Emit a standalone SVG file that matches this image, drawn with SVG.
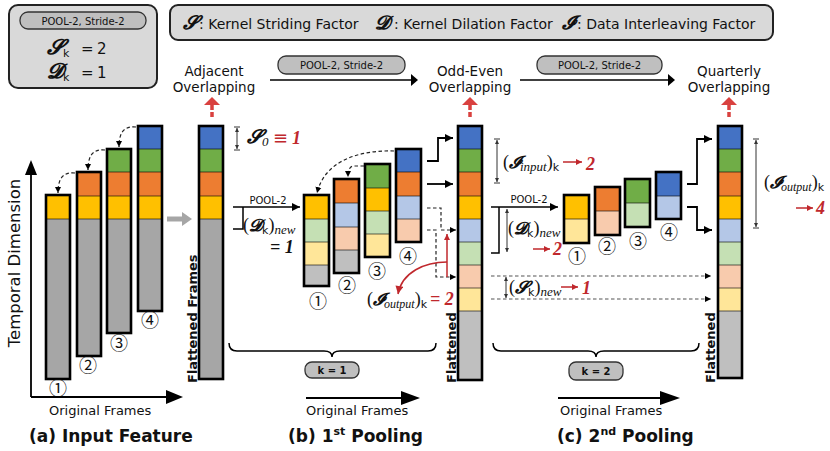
<svg xmlns="http://www.w3.org/2000/svg" width="830" height="451" viewBox="0 0 830 451">
<style>
text{font-family:"DejaVu Sans","Noto Sans",sans-serif;fill:#111}
.lbl{font-size:13.5px;text-anchor:middle}
.lg14{font-size:14px}
.ttl{font-size:17px;font-weight:bold}
.of{font-size:13px}
.flat{font-size:13px;font-weight:bold}
.pill{fill:#bfbfbf;stroke:#333;stroke-width:1.3}
.pt{font-size:10px;text-anchor:middle}
.kt{font-size:10px;font-weight:bold;text-anchor:middle}
.box{fill:#d9d9d9;stroke:#222;stroke-width:2}
.b{fill:#4472c4}.g{fill:#70ad47}.o{fill:#ed7d31}.y{fill:#ffc000}.gr{fill:#a6a6a6}
.lb{fill:#b4c7e7}.lgn{fill:#c5e0b4}.pe{fill:#f8cbad}.ly{fill:#ffe699}.lgr{fill:#bfbfbf}
.ol{fill:none;stroke:#000;stroke-width:2.6}
.sep{stroke:#000;stroke-opacity:.3;stroke-width:2;fill:none}
.cn{font-family:"Noto Sans CJK JP","DejaVu Sans",sans-serif;font-size:18px;text-anchor:middle}
.ln{fill:none;stroke:#000;stroke-width:1.8}
.tl{fill:none;stroke:#000;stroke-width:1.5}
.dl{fill:none;stroke:#222;stroke-width:1.2;stroke-dasharray:3.5 2.5}
.dl2{fill:none;stroke:#555;stroke-width:1.2;stroke-dasharray:3.5 2.5}
.dim{fill:none;stroke:#333;stroke-width:1}
.rl{fill:none;stroke:#c0282d;stroke-width:1.5}
.m{font-family:"Liberation Serif","DejaVu Serif",serif}
.sc{font-family:"DejaVu Serif","Liberation Serif",serif;font-weight:bold;font-style:italic}
.it{font-style:italic}
.rn{fill:#c0282d;font-family:"Liberation Serif",serif;font-weight:bold;font-style:italic;font-size:18px}
</style>
<defs>
<marker id="ah" viewBox="0 0 10 10" refX="10" refY="5" markerWidth="8" markerHeight="11" markerUnits="userSpaceOnUse" orient="auto"><path d="M0 0L10 5L0 10z" fill="#000"/></marker>
<marker id="ahs" viewBox="0 0 10 10" refX="10" refY="5" markerWidth="6" markerHeight="8" markerUnits="userSpaceOnUse" orient="auto"><path d="M0 0L10 5L0 10z" fill="#000"/></marker>
<marker id="rah" viewBox="0 0 10 10" refX="10" refY="5" markerWidth="7" markerHeight="6" markerUnits="userSpaceOnUse" orient="auto"><path d="M0 0L10 5L0 10z" fill="#c0282d"/></marker>
<marker id="rah2" viewBox="0 0 10 10" refX="10" refY="5" markerWidth="9" markerHeight="8" markerUnits="userSpaceOnUse" orient="auto"><path d="M0 0L10 5L0 10z" fill="#c0282d"/></marker>
<marker id="dt" viewBox="0 0 10 10" refX="10" refY="5" markerWidth="4" markerHeight="4" markerUnits="userSpaceOnUse" orient="auto-start-reverse"><path d="M0 0L10 5L0 10z" fill="#333"/></marker>
</defs>
<rect width="830" height="451" fill="#fff"/>

<g id="param-box">
<rect class="box" x="9" y="5" width="148" height="83" rx="9"/>
<rect class="pill" x="20" y="12" width="126" height="17" rx="8"/>
<text class="pt" x="83" y="24.5">POOL-2, Stride-2</text>
<text x="47" y="54"><tspan class="sc" font-size="21">𝓢</tspan><tspan font-size="11" dy="3">k</tspan></text>
<text x="81" y="54" font-size="15">=</text><text x="97" y="54" font-size="15">2</text>
<text x="47" y="78"><tspan class="sc" font-size="21">𝓓</tspan><tspan font-size="11" dy="3">k</tspan></text>
<text x="81" y="78" font-size="15">=</text><text x="97" y="78" font-size="15">1</text>
</g>

<g id="legend">
<rect class="box" x="170" y="5" width="603" height="35" rx="8"/>
<text class="lg14" x="183" y="29"><tspan class="sc" font-size="19">𝓢</tspan><tspan x="199">: Kernel Striding Factor</tspan></text>
<text class="lg14" x="375" y="29"><tspan class="sc" font-size="19">𝓓</tspan><tspan x="394">: Kernel Dilation Factor</tspan></text>
<text class="lg14" x="562" y="29"><tspan class="sc" font-size="19">𝓘</tspan><tspan x="577">: Data Interleaving Factor</tspan></text>
</g>

<g id="label-adjacent"><text class="lbl" x="214" y="76">Adjacent</text><text class="lbl" x="214" y="92">Overlapping</text></g>
<g id="label-oddeven"><text class="lbl" x="470" y="76">Odd-Even</text><text class="lbl" x="470" y="92">Overlapping</text></g>
<g id="label-quarterly"><text class="lbl" x="729" y="76">Quarterly</text><text class="lbl" x="729" y="92">Overlapping</text></g>
<g id="pill-top1"><rect class="pill" x="278" y="56" width="127" height="18" rx="8"/><text class="pt" x="341.5" y="69">POOL-2, Stride-2</text></g>
<g id="pill-top2"><rect class="pill" x="537" y="56" width="125" height="18" rx="8"/><text class="pt" x="599.5" y="69">POOL-2, Stride-2</text></g>

<g id="a-frame1">
<rect class="y" x="46" y="195" width="24" height="24"/><rect class="gr" x="46" y="219" width="24" height="160"/>
<path class="sep" d="M46 219h24"/><rect class="ol" x="46" y="195" width="24" height="184"/>
</g>
<g id="a-frame2">
<rect class="o" x="77" y="172" width="24" height="24"/><rect class="y" x="77" y="196" width="24" height="23"/><rect class="gr" x="77" y="219" width="24" height="137"/>
<path class="sep" d="M77 196h24M77 219h24"/><rect class="ol" x="77" y="172" width="24" height="184"/>
</g>
<g id="a-frame3">
<rect class="g" x="107" y="149" width="24" height="23"/><rect class="o" x="107" y="172" width="24" height="24"/><rect class="y" x="107" y="196" width="24" height="23"/><rect class="gr" x="107" y="219" width="24" height="114"/>
<path class="sep" d="M107 172h24M107 196h24M107 219h24"/><rect class="ol" x="107" y="149" width="24" height="184"/>
</g>
<g id="a-frame4">
<rect class="b" x="138" y="126" width="24" height="23"/><rect class="g" x="138" y="149" width="24" height="23"/><rect class="o" x="138" y="172" width="24" height="24"/><rect class="y" x="138" y="196" width="24" height="23"/><rect class="gr" x="138" y="219" width="24" height="92"/>
<path class="sep" d="M138 149h24M138 172h24M138 196h24M138 219h24"/><rect class="ol" x="138" y="126" width="24" height="185"/>
</g>
<g id="a-flattened">
<rect class="b" x="199" y="126" width="24" height="23"/><rect class="g" x="199" y="149" width="24" height="23"/><rect class="o" x="199" y="172" width="24" height="24"/><rect class="y" x="199" y="196" width="24" height="23"/><rect class="gr" x="199" y="219" width="24" height="160"/>
<path class="sep" d="M199 149h24M199 172h24M199 196h24M199 219h24"/><rect class="ol" x="199" y="126" width="24" height="253"/>
</g>
<text class="cn" x="58" y="395">①</text><text class="cn" x="88" y="372">②</text><text class="cn" x="119" y="350">③</text><text class="cn" x="150" y="327">④</text>
<text class="flat" transform="translate(197,383) rotate(-90)">Flattened Frames</text>
<text transform="translate(20,263) rotate(-90)" font-size="16.5" text-anchor="middle">Temporal Dimension</text>

<g id="b-frame1">
<rect class="y" x="304" y="195" width="25" height="24"/><rect class="lgn" x="304" y="219" width="25" height="23"/><rect class="ly" x="304" y="242" width="25" height="23"/><rect class="lgr" x="304" y="265" width="25" height="21"/>
<path class="sep" d="M304 219h25M304 242h25M304 265h25"/><rect class="ol" x="304" y="195" width="25" height="91"/>
</g>
<g id="b-frame2">
<rect class="o" x="334" y="179" width="25" height="24"/><rect class="lb" x="334" y="203" width="25" height="24"/><rect class="pe" x="334" y="227" width="25" height="23"/><rect class="lgr" x="334" y="250" width="25" height="23"/>
<path class="sep" d="M334 203h25M334 227h25M334 250h25"/><rect class="ol" x="334" y="179" width="25" height="94"/>
</g>
<g id="b-frame3">
<rect class="g" x="365" y="164" width="25" height="24"/><rect class="y" x="365" y="188" width="25" height="23"/><rect class="lgn" x="365" y="211" width="25" height="23"/><rect class="ly" x="365" y="234" width="25" height="23"/>
<path class="sep" d="M365 188h25M365 211h25M365 234h25"/><rect class="ol" x="365" y="164" width="25" height="93"/>
</g>
<g id="b-frame4">
<rect class="b" x="396" y="149" width="25" height="23"/><rect class="o" x="396" y="172" width="25" height="24"/><rect class="lb" x="396" y="196" width="25" height="23"/><rect class="pe" x="396" y="219" width="25" height="23"/>
<path class="sep" d="M396 172h25M396 196h25M396 219h25"/><rect class="ol" x="396" y="149" width="25" height="93"/>
</g>
<text class="cn" x="318" y="308">①</text><text class="cn" x="347" y="292">②</text><text class="cn" x="377" y="278">③</text><text class="cn" x="408" y="263">④</text>

<g id="b-flattened">
<rect class="b" x="458" y="126" width="24" height="23"/><rect class="g" x="458" y="149" width="24" height="23"/><rect class="o" x="458" y="172" width="24" height="24"/><rect class="y" x="458" y="196" width="24" height="23"/><rect class="lb" x="458" y="219" width="24" height="23"/><rect class="lgn" x="458" y="242" width="24" height="23"/><rect class="pe" x="458" y="265" width="24" height="23"/><rect class="ly" x="458" y="288" width="24" height="23"/><rect class="lgr" x="458" y="311" width="24" height="69"/>
<path class="sep" d="M458 149h24M458 172h24M458 196h24M458 219h24M458 242h24M458 265h24M458 288h24M458 311h24"/><rect class="ol" x="458" y="126" width="24" height="254"/>
</g>
<text class="flat" transform="translate(456,383) rotate(-90)">Flattened</text>

<g id="c-frame1">
<rect class="y" x="564" y="195" width="25" height="24"/><rect class="ly" x="564" y="219" width="25" height="24"/>
<path class="sep" d="M564 219h25"/><rect class="ol" x="564" y="195" width="25" height="48" stroke-width="3"/>
</g>
<g id="c-frame2">
<rect class="o" x="595" y="187" width="25" height="24"/><rect class="pe" x="595" y="211" width="25" height="24"/>
<path class="sep" d="M595 211h25"/><rect class="ol" x="595" y="187" width="25" height="48" stroke-width="3"/>
</g>
<g id="c-frame3">
<rect class="g" x="625" y="179" width="25" height="24"/><rect class="lgn" x="625" y="203" width="25" height="24"/>
<path class="sep" d="M625 203h25"/><rect class="ol" x="625" y="179" width="25" height="48" stroke-width="3"/>
</g>
<g id="c-frame4">
<rect class="b" x="656" y="172" width="25" height="24"/><rect class="lb" x="656" y="196" width="25" height="23"/>
<path class="sep" d="M656 196h25"/><rect class="ol" x="656" y="172" width="25" height="47" stroke-width="3"/>
</g>
<text class="cn" x="577" y="263">①</text><text class="cn" x="607" y="253">②</text><text class="cn" x="638" y="248">③</text><text class="cn" x="669" y="239">④</text>

<g id="c-flattened">
<rect class="b" x="718" y="126" width="24" height="23"/><rect class="g" x="718" y="149" width="24" height="23"/><rect class="o" x="718" y="172" width="24" height="24"/><rect class="y" x="718" y="196" width="24" height="23"/><rect class="lb" x="718" y="219" width="24" height="23"/><rect class="lgn" x="718" y="242" width="24" height="23"/><rect class="pe" x="718" y="265" width="24" height="23"/><rect class="ly" x="718" y="288" width="24" height="23"/><rect class="lgr" x="718" y="311" width="24" height="67"/>
<path class="sep" d="M718 149h24M718 172h24M718 196h24M718 219h24M718 242h24M718 265h24M718 288h24M718 311h24"/><rect class="ol" x="718" y="126" width="24" height="252"/>
</g>
<text class="flat" transform="translate(715,383) rotate(-90)">Flattened</text>

<g id="ann-s0">
<path class="dim" d="M237 128V149" marker-start="url(#dt)" marker-end="url(#dt)"/><path class="dim" d="M234 127h6M234 150h6"/>
<text x="247" y="143"><tspan class="sc" font-size="19">𝓢</tspan><tspan class="m it" font-size="13" dy="3">0</tspan></text>
<text x="273" y="144" font-size="18" style="fill:#c0282d">≡</text>
<text class="rn" x="292" y="144">1</text>
</g>
<g id="ann-b-dnew">
<text x="243" y="231"><tspan class="m" font-size="18">(</tspan><tspan class="sc" font-size="17">𝓓</tspan><tspan font-size="11" dy="3">k</tspan><tspan class="m" font-size="18" dy="-3">)</tspan><tspan class="m it" font-size="13" dy="3">new</tspan></text>
<text class="m" x="270" y="253" font-size="18" font-weight="bold" font-style="italic">= 1</text>
<text x="268" y="204" font-size="10" text-anchor="middle">POOL-2</text>
</g>
<g id="ann-b-iout">
<text x="367" y="305"><tspan class="m" font-size="18">(</tspan><tspan class="sc" font-size="17">𝓘</tspan><tspan class="m it" font-size="12" dy="3">output</tspan><tspan class="m" font-size="18" dy="-3">)</tspan><tspan font-size="11" dy="3">k</tspan></text>
<text class="rn" x="430" y="305">= 2</text>
</g>
<g id="ann-c-iin">
<path class="dim" d="M497 140V182" marker-start="url(#dt)" marker-end="url(#dt)"/><path class="dim" d="M494 139h6M494 183h6"/>
<text x="503" y="168"><tspan class="m" font-size="18">(</tspan><tspan class="sc" font-size="17">𝓘</tspan><tspan class="m it" font-size="13" dy="3">input</tspan><tspan class="m" font-size="18" dy="-3">)</tspan><tspan font-size="11" dy="3">k</tspan></text>
<path class="rl" d="M563 162H582" marker-end="url(#rah)"/>
<text class="rn" x="586" y="170">2</text>
</g>
<g id="ann-c-dnew">
<text x="529" y="203" font-size="10" text-anchor="middle">POOL-2</text>
<path class="dim" d="M507 209V252" marker-start="url(#dt)" marker-end="url(#dt)"/>
<text x="508" y="234"><tspan class="m" font-size="18">(</tspan><tspan class="sc" font-size="17">𝓓</tspan><tspan font-size="11" dy="3">k</tspan><tspan class="m" font-size="18" dy="-3">)</tspan><tspan class="m it" font-size="13" dy="3">new</tspan></text>
<path class="rl" d="M533 249H550" marker-end="url(#rah)"/>
<text class="rn" x="553" y="255">2</text>
</g>
<g id="ann-c-snew">
<path class="dim" d="M506 277V298" marker-start="url(#dt)" marker-end="url(#dt)"/>
<text x="509" y="293"><tspan class="m" font-size="18">(</tspan><tspan class="sc" font-size="17">𝓢</tspan><tspan font-size="11" dy="3">k</tspan><tspan class="m" font-size="18" dy="-3">)</tspan><tspan class="m it" font-size="13" dy="3">new</tspan></text>
<path class="rl" d="M561 287H578" marker-end="url(#rah)"/>
<text class="rn" x="582" y="294">1</text>
</g>
<g id="ann-c-iout">
<path class="dim" d="M756 140V227" marker-start="url(#dt)" marker-end="url(#dt)"/><path class="dim" d="M753 139h6M753 228h6"/>
<text x="764" y="188"><tspan class="m" font-size="18">(</tspan><tspan class="sc" font-size="17">𝓘</tspan><tspan class="m it" font-size="12" dy="3">output</tspan><tspan class="m" font-size="18" dy="-3">)</tspan><tspan font-size="11" dy="3">k</tspan></text>
<path class="rl" d="M796 208H813" marker-end="url(#rah)"/>
<text class="rn" x="816" y="214">4</text>
</g>

<g id="connectors">
<path class="tl" d="M270 80H412"/><polygon points="411,74 418,80 411,86"/>
<path class="tl" d="M520 80H669"/><polygon points="668,74 675,80 668,86"/>
<g fill="#d9413f"><polygon points="204,105 212,97 220,105"/><polygon points="462,105 470,97 478,105"/><polygon points="721,105 729,97 737,105"/></g>
<g stroke="#d9413f" stroke-width="3.5" stroke-dasharray="5 2" fill="none"><path d="M212 105V118"/><path d="M470 105V118"/><path d="M729 105V118"/></g>
<path class="ln" d="M31 397V172M31 397H168"/>
<polygon points="25,175 31,160 37,175"/><polygon points="166,390 183,397 166,404"/>
<path class="ln" d="M306 398H403"/><polygon points="401,391 420,398 401,405"/>
<path class="ln" d="M558 398H662"/><polygon points="660,391 680,398 660,405"/>
<path class="dl" d="M75 173C64 172 58 177 58 193" marker-end="url(#ahs)"/>
<path class="dl" d="M105 150C94 149 88 154 88 170" marker-end="url(#ahs)"/>
<path class="dl" d="M136 127C125 126 119 131 119 147" marker-end="url(#ahs)"/>
<path d="M167 219H183" stroke="#a6a6a6" stroke-width="5"/><polygon points="182,212 192,219 182,226" fill="#a6a6a6"/>
<path class="tl" d="M233 207H300" marker-end="url(#ah)"/>
<path class="tl" d="M243 207V229H233"/>
<path class="dl" d="M394 151C360 150 325 160 317 193" marker-end="url(#ahs)"/>
<path class="dl" d="M364 166H354Q348 166 348 177" marker-end="url(#ahs)"/>
<path class="ln" d="M427 161H438V138H453" marker-end="url(#ah)"/>
<path class="ln" d="M427 184H453" marker-end="url(#ah)"/>
<path class="dl" d="M427 208H441V230H456" marker-end="url(#ahs)"/>
<path class="dl" d="M427 230H436V277H456" marker-end="url(#ahs)"/>
<path class="rl" d="M447 277V234" stroke-width="1.2" marker-end="url(#rah)"/>
<path class="rl" d="M447 262C425 262 402 272 398 294" stroke-width="1.2" marker-end="url(#rah2)"/>
<path class="tl" d="M491 207H558" marker-end="url(#ah)"/>
<path class="tl" d="M499 207V253H491"/>
<path class="ln" d="M687 184H697V139H712" marker-end="url(#ah)"/>
<path class="ln" d="M687 207H697V230H712" marker-end="url(#ah)"/>
<path class="dl2" d="M491 276H711" marker-end="url(#ahs)"/>
<path class="dl2" d="M491 299H711" marker-end="url(#ahs)"/>
<path class="tl" d="M229 343Q229 351 237 351H324Q332 351 332 357Q332 351 340 351H428Q436 351 436 343"/>
<path class="tl" d="M493 343Q493 351 501 351H588Q596 351 596 357Q596 351 604 351H691Q699 351 699 343"/>
</g>

<g id="pill-k1"><rect class="pill" x="305" y="362" width="54" height="16" rx="7"/><text class="kt" x="332" y="374">k = 1</text></g>
<g id="pill-k2"><rect class="pill" x="569" y="362" width="54" height="18" rx="7"/><text class="kt" x="596" y="375">k = 2</text></g>

<text class="of" x="49" y="415">Original Frames</text>
<text class="of" x="306" y="415">Original Frames</text>
<text class="of" x="560" y="415">Original Frames</text>
<text class="ttl" x="29" y="442">(a) Input Feature</text>
<text class="ttl" x="288" y="442">(b) 1<tspan font-size="11" dy="-7">st</tspan><tspan dy="7"> Pooling</tspan></text>
<text class="ttl" x="557" y="442">(c) 2<tspan font-size="11" dy="-7">nd</tspan><tspan dy="7"> Pooling</tspan></text>
</svg>
